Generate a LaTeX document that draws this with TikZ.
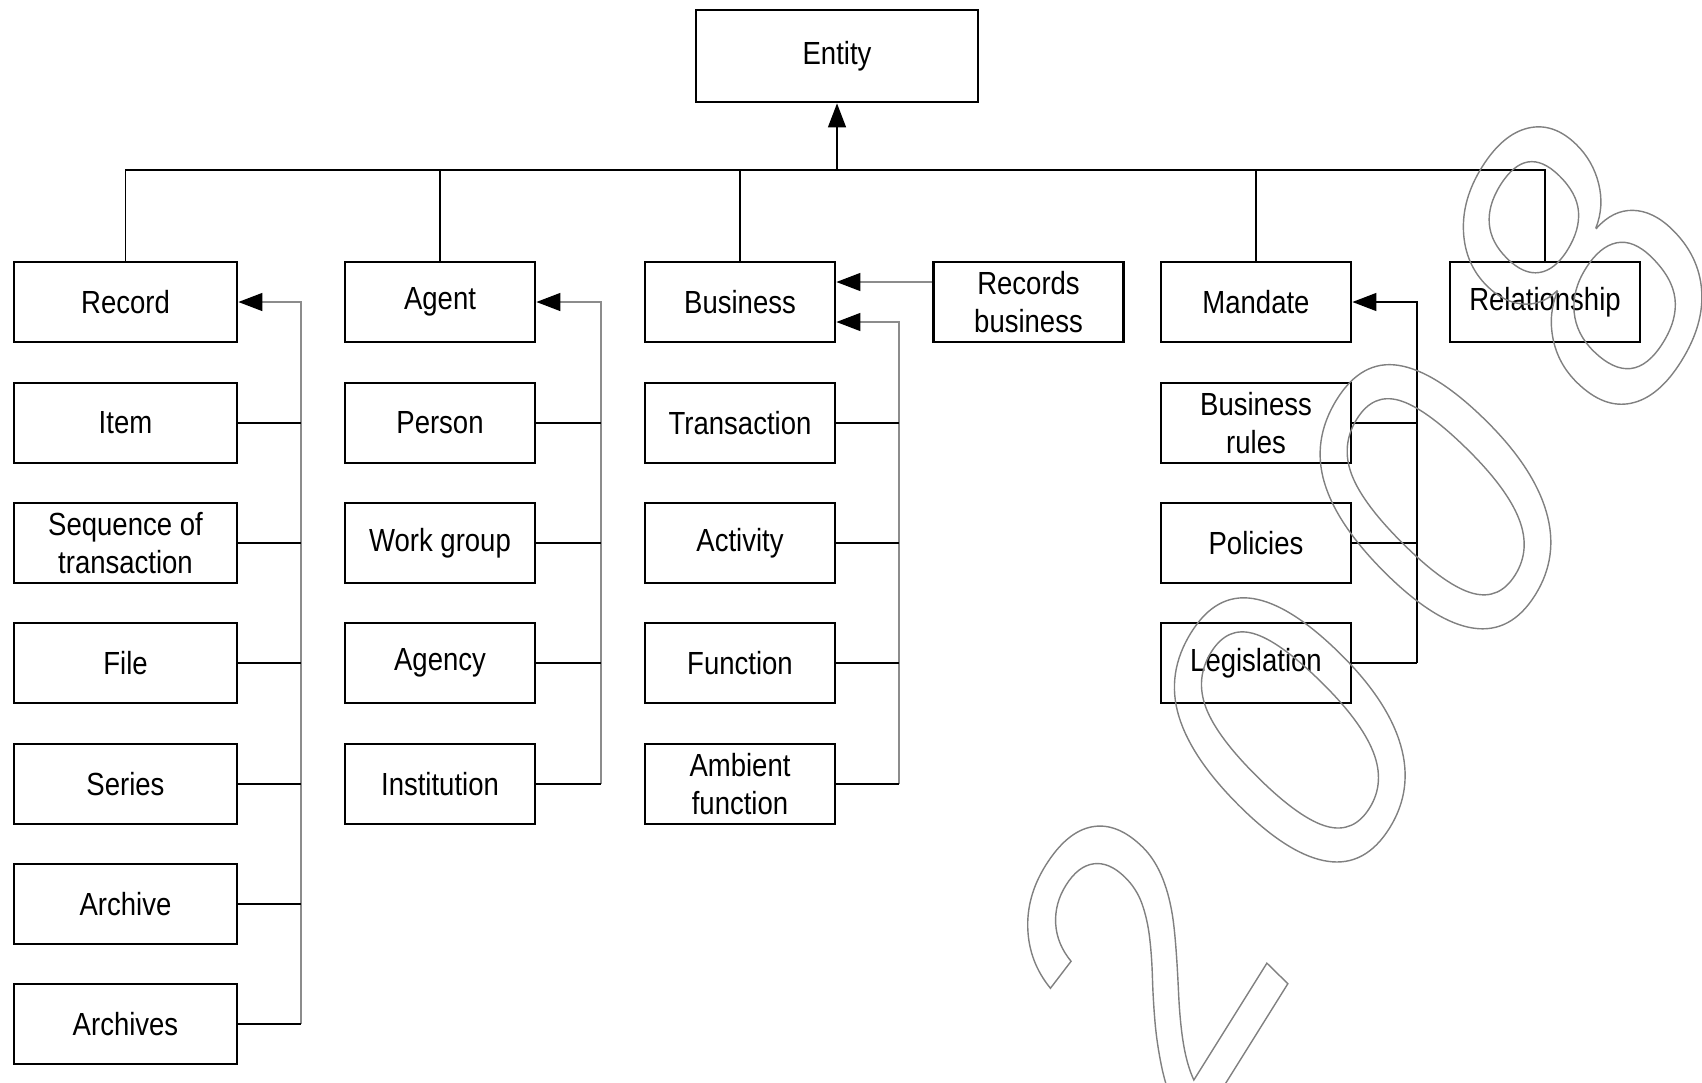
\documentclass[tikz,border=0pt]{standalone}
\usepackage{fontspec}
\setmainfont{Liberation Sans}[FakeStretch=0.86]
\newfontfamily\wmfont{Liberation Sans}[FakeSlant=0.22, LetterSpace=16]
\usetikzlibrary{arrows.meta}

\newcommand{\outlinetext}[1]{\special{pdf:literal direct 1 Tr 0.7 w}#1\special{pdf:literal direct 0 Tr}}

\tikzset{
  box/.style={draw, line width=1.4pt, minimum width=95pt, minimum height=40pt,
    inner sep=0pt, align=center, font=\fontsize{16}{19}\selectfont},
  link/.style={line width=0.7pt},
  feed/.style={link, draw=black!45},
  tip/.style={-{Triangle[length=12pt,width=9pt,color=black]}}
}

\begin{document}
\begin{tikzpicture}[x=0.5pt, y=-0.5pt]
    \useasboundingbox (0,0) rectangle (1702,1082);

    % Gốc
    \node[box, minimum width=141pt, minimum height=46pt] (entity) at (837,56) {Entity};

    % Cột Record
    \node[box, minimum width=111.5pt] (record)   at (125.5,302)  {Record};
    \node[box, minimum width=111.5pt] (item)     at (125.5,423)  {Item};
    \node[box, minimum width=111.5pt] (sequence) at (125.5,543)  {Sequence of\\transaction};
    \node[box, minimum width=111.5pt] (file)     at (125.5,663)  {File};
    \node[box, minimum width=111.5pt] (series)   at (125.5,784)  {Series};
    \node[box, minimum width=111.5pt] (archive)  at (125.5,904)  {Archive};
    \node[box, minimum width=111.5pt] (archives) at (125.5,1024) {Archives};

    % Cột Agent
    \node[box] (agent)       at (440,302) {Agent};
    \node[box] (person)      at (440,423) {Person};
    \node[box] (workgroup)   at (440,543) {Work group};
    \node[box] (agency)      at (440,663) {Agency};
    \node[box] (institution) at (440,784) {Institution};

    % Cột Business
    \node[box] (business)    at (740,302) {Business};
    \node[box] (transaction) at (740,423) {Transaction};
    \node[box] (activity)    at (740,543) {Activity};
    \node[box] (function)    at (740,663) {Function};
    \node[box] (ambient)     at (740,784) {Ambient\\function};
    \node[box] (recbusiness) at (1028.5,302) {Records\\business};

    % Cột Mandate
    \node[box] (mandate)     at (1256,302) {Mandate};
    \node[box] (rules)       at (1256,423) {Business\\rules};
    \node[box] (policies)    at (1256,543) {Policies};
    \node[box] (legislation) at (1256,663) {Legislation};

    \node[box] (relationship) at (1545,302) {Relationship};

    % Thanh ngang chung
    \coordinate (bus) at (0,170);
    \draw[link] (record.north) -- (record.north |- bus) -- (relationship.north |- bus) -- (relationship.north);
    \foreach \n in {agent,business,mandate}
        \draw[link] (\n.north) -- (\n.north |- bus);
    \draw[link, tip] (entity.south |- bus) -- (entity.south);

    % Nhánh con
    \coordinate (rbus) at (301,0);
    \coordinate (abus) at (601,0);
    \coordinate (bbus) at (899,0);
    \coordinate (mbus) at (1417,0);

    \draw[feed, tip] (archives.east -| rbus) |- (record.east);
    \foreach \n in {item,sequence,file,series,archive,archives}
        \draw[link] (\n.east) -- (\n.east -| rbus);

    \draw[feed, tip] (institution.east -| abus) |- (agent.east);
    \foreach \n in {person,workgroup,agency,institution}
        \draw[link] (\n.east) -- (\n.east -| abus);

    \draw[feed, tip] (ambient.east -| bbus) |- ([yshift=-10pt]business.east);
    \draw[feed, tip] ([yshift=10pt]recbusiness.west) -- ([yshift=10pt]business.east);
    \foreach \n in {transaction,activity,function,ambient}
        \draw[link] (\n.east) -- (\n.east -| bbus);

    \draw[link, tip] (legislation.east -| mbus) |- (mandate.east);
    \foreach \n in {rules,policies,legislation}
        \draw[link] (\n.east) -- (\n.east -| mbus);

    % Dấu nước
    \begin{scope}
        \clip (0,0) rectangle (1702,1082);
        \node[rotate=58, inner sep=0pt, text=black!50] (wmark) at (1348,638)
            {\wmfont\fontsize{192}{192}\selectfont\outlinetext{2008}};
    \end{scope}
\end{tikzpicture}
\end{document}
